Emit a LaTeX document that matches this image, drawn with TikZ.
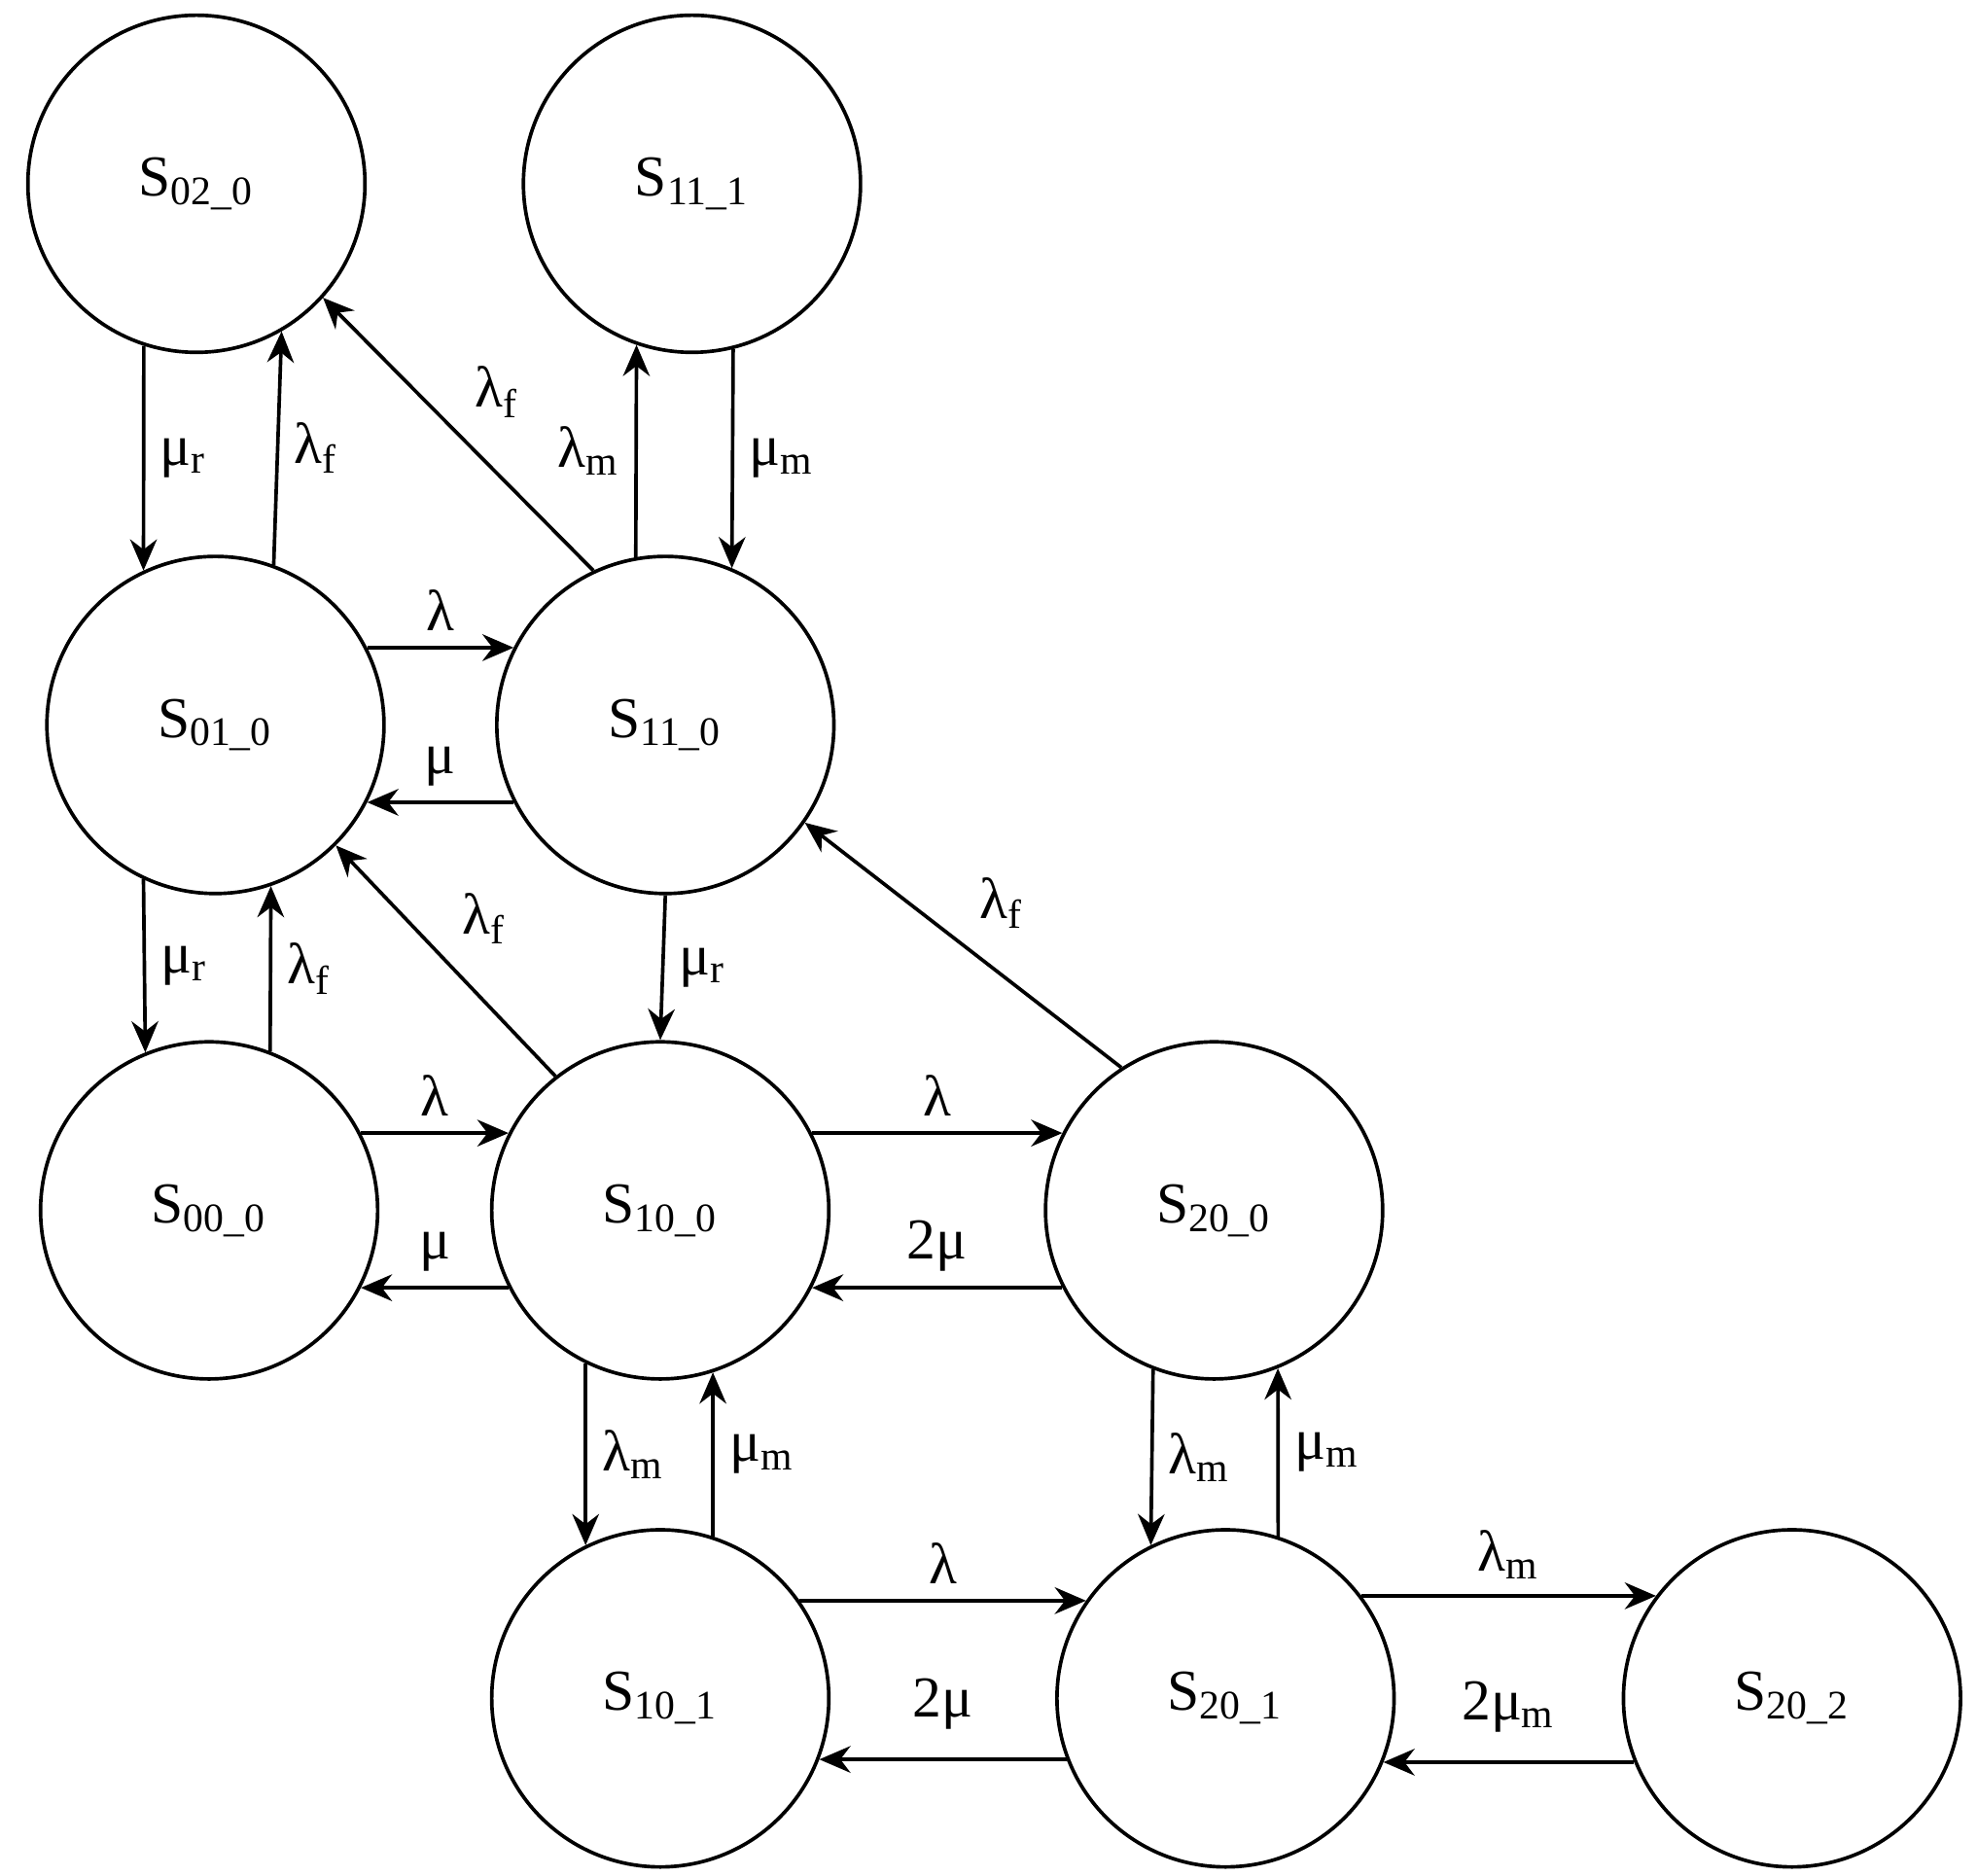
\documentclass[tikz,border=0pt]{standalone}
\usepackage{fontspec}
\setmainfont{Liberation Serif}
\usetikzlibrary{arrows.meta}
\tikzset{state/.style={circle,draw,thick,minimum size=2.66cm,inner sep=0pt,font=\fontsize{13}{15}\selectfont},
         trans/.style={-{Stealth[length=7pt,width=6pt]},thick},
         lbl/.style={font=\fontsize{13}{15}\selectfont}}
\begin{document}
\begin{tikzpicture}
  \useasboundingbox (0,0) rectangle (15.6,-14.8);
  % states
  \node[state] (s020) at (1.55,-1.45) {S\textsubscript{02\_0}};
  \node[state] (s111) at (5.46,-1.45) {S\textsubscript{11\_1}};
  \node[state] (s010) at (1.70,-5.72) {S\textsubscript{01\_0}};
  \node[state] (s110) at (5.25,-5.72) {S\textsubscript{11\_0}};
  \node[state] (s000) at (1.65,-9.55) {S\textsubscript{00\_0}};
  \node[state] (s100) at (5.21,-9.55) {S\textsubscript{10\_0}};
  \node[state] (s200) at (9.58,-9.55) {S\textsubscript{20\_0}};
  \node[state] (s101) at (5.21,-13.40) {S\textsubscript{10\_1}};
  \node[state] (s201) at (9.67,-13.40) {S\textsubscript{20\_1}};
  \node[state] (s202) at (14.14,-13.40) {S\textsubscript{20\_2}};
  % transitions
  \draw[trans] (s020.-108) -- node[lbl,right] {μ\textsubscript{r}} (s010.115);
  \draw[trans] (s010.70) -- node[lbl,right] {λ\textsubscript{f}} (s020.-60);
  \draw[trans] (s110.115) -- node[lbl,above right] {λ\textsubscript{f}} (s020.-42);
  \draw[trans] (s110.100) -- node[lbl,left] {λ\textsubscript{m}} (s111.-109);
  \draw[trans] (s111.-76) -- node[lbl,right] {μ\textsubscript{m}} (s110.67);
  \draw[trans] (s010.27) -- node[lbl,above] {λ} (s110.153);
  \draw[trans] (s110.207) -- node[lbl,above] {μ} (s010.-27);
  \draw[trans] (s010.-115) -- node[lbl,right] {μ\textsubscript{r}} (s000.112);
  \draw[trans] (s000.69) -- node[lbl,right] {λ\textsubscript{f}} (s010.-71);
  \draw[trans] (s100.128) -- node[lbl,above right] {λ\textsubscript{f}} (s010.-45);
  \draw[trans] (s110.south) -- node[lbl,right] {μ\textsubscript{r}} (s100.north);
  \draw[trans] (s200.123) -- node[lbl,above right] {λ\textsubscript{f}} (s110.-35);
  \draw[trans] (s000.27) -- node[lbl,above] {λ} (s100.153);
  \draw[trans] (s100.207) -- node[lbl,above] {μ} (s000.-27);
  \draw[trans] (s100.27) -- node[lbl,above] {λ} (s200.153);
  \draw[trans] (s200.207) -- node[lbl,above] {2μ} (s100.-27);
  \draw[trans] (s100.-116) -- node[lbl,right] {λ\textsubscript{m}} (s101.116);
  \draw[trans] (s101.72) -- node[lbl,right] {μ\textsubscript{m}} (s100.-72);
  \draw[trans] (s200.-111) -- node[lbl,right] {λ\textsubscript{m}} (s201.116);
  \draw[trans] (s201.72) -- node[lbl,right] {μ\textsubscript{m}} (s200.-68);
  \draw[trans] (s101.35) -- node[lbl,above] {λ} (s201.145);
  \draw[trans] (s201.201) -- node[lbl,above=3pt] {2μ} (s101.-21);
  \draw[trans] (s201.37) -- node[lbl,above] {λ\textsubscript{m}} (s202.143);
  \draw[trans] (s202.202) -- node[lbl,above=3pt] {2μ\textsubscript{m}} (s201.-22);
\end{tikzpicture}
\end{document}
